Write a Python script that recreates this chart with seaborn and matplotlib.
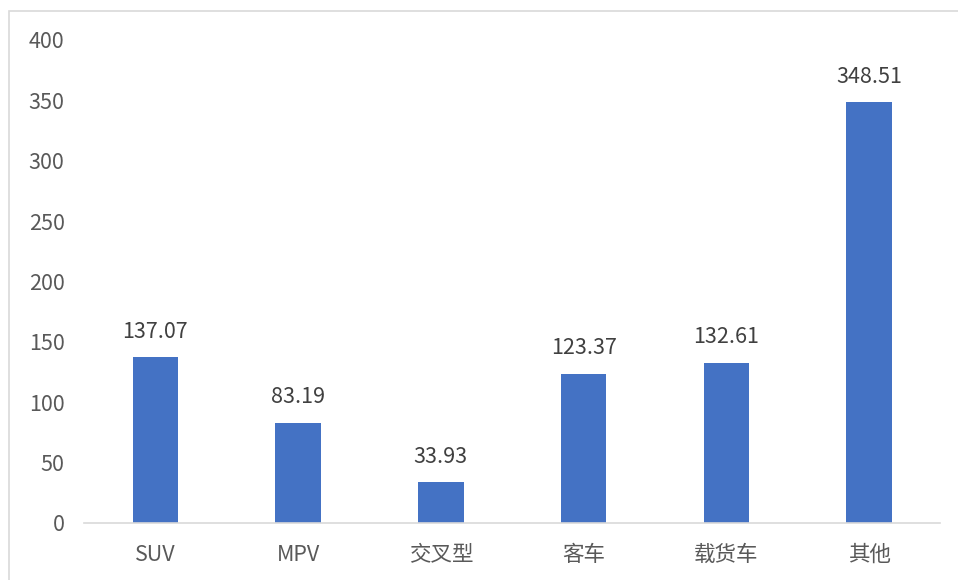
import pandas as pd
import seaborn as sns
import matplotlib.pyplot as plt
from matplotlib.patches import Rectangle

categories = ['SUV', 'MPV', '交叉型', '客车', '载货车', '其他']
values = [137.07, 83.19, 33.93, 123.37, 132.61, 348.51]
yticks = [0, 50, 100, 150, 200, 250, 300, 350, 400]

df = pd.DataFrame({'cat': categories, 'val': values})

sns.set_style('white')
plt.rcParams['font.family'] = ['Noto Sans CJK SC', 'DejaVu Sans']

fig = plt.figure(figsize=(9.58, 5.8), dpi=100)
ax = fig.add_axes([0.0877, 0.0983, 0.894, 0.833])

sns.barplot(data=df, x='cat', y='val', color='#4472C4', width=0.32,
            saturation=1, linewidth=0, ax=ax)

# data labels
for i, v in enumerate(values):
    ax.text(i, v + 12, f'{v:.2f}', ha='center', va='bottom',
            fontsize=15.5, color='#404040')

ax.set_ylim(0, 400)
ax.set_xlim(-0.5, len(categories) - 0.5)
ax.set_yticks(yticks)
ax.set_xlabel('')
ax.set_ylabel('')
ax.tick_params(axis='both', length=0, labelsize=15.5, colors='#595959')
ax.tick_params(axis='y', pad=14)
ax.tick_params(axis='x', pad=15)

for s in ['top', 'right', 'left']:
    ax.spines[s].set_visible(False)
ax.spines['bottom'].set_color('#d9d9d9')
ax.spines['bottom'].set_linewidth(1.2)

# chart frame
fig.patches.append(Rectangle((9 / 958, -0.1), 1.1, 1 - 11 / 580 + 0.1,
                             transform=fig.transFigure, fill=False,
                             edgecolor='#d9d9d9', linewidth=1.2))

fig.savefig('out.png', dpi=100)
